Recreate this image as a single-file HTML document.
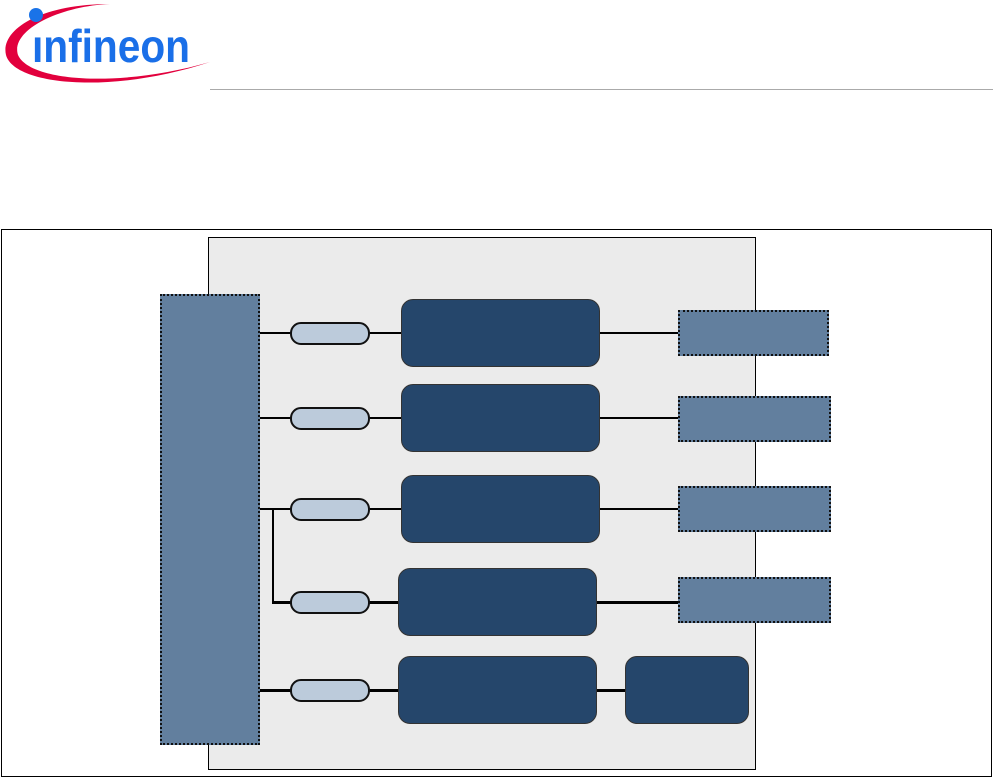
<!DOCTYPE html>
<html><head><style>
body{margin:0;width:993px;height:777px;background:#fff;position:relative;overflow:hidden;font-family:"Liberation Sans",sans-serif}
div{position:absolute;box-sizing:border-box}
.d{background:#25466b;border:1px solid #333;border-radius:12px}
.l{background:#627f9e;border:2px dotted #111}
.p{background:#bccbdb;border:2px solid #111;border-radius:11px;width:80px;height:23px;left:290px}
.h{height:3px;background:#000}
</style></head><body>
<svg style="position:absolute;left:0;top:0" width="230" height="95">
<path d="M110 4 C40 4 0 30 6 55 C14 85 110 95 210 62 C120 88 30 82 18 55 C10 30 60 6 110 4Z" fill="#e2003d"/>
<circle cx="36" cy="15" r="7" fill="#1a73e8"/>
<text x="32" y="62" font-family="Liberation Sans Narrow, Liberation Sans, sans-serif" font-size="46" font-weight="bold" fill="#1a6fe8" textLength="158" lengthAdjust="spacingAndGlyphs">ınfineon</text>
</svg>
<div style="left:210px;top:89px;width:783px;height:1px;background:#aaa"></div>
<div style="left:1px;top:229px;width:991px;height:548px;border:1px solid #000"></div>
<div style="left:208px;top:237px;width:548px;height:533px;background:#ebebeb;border:1px solid #000"></div>
<div class="l" style="left:160px;top:294px;width:100px;height:451px"></div>
<div class="h" style="left:260px;top:332px;width:420px;height:2px"></div>
<div class="h" style="left:260px;top:417px;width:420px;height:2px"></div>
<div class="h" style="left:260px;top:508px;width:420px;height:2px"></div>
<div class="h" style="left:272px;top:601px;width:408px"></div>
<div style="left:272px;top:508px;width:2px;height:95px;background:#000"></div>
<div class="h" style="left:260px;top:689px;width:370px"></div>
<div class="p" style="top:322px"></div>
<div class="p" style="top:407px"></div>
<div class="p" style="top:498px"></div>
<div class="p" style="top:591px"></div>
<div class="p" style="top:679px"></div>
<div class="d" style="left:401px;top:299px;width:199px;height:68px"></div>
<div class="d" style="left:401px;top:384px;width:199px;height:68px"></div>
<div class="d" style="left:401px;top:475px;width:199px;height:68px"></div>
<div class="d" style="left:398px;top:568px;width:199px;height:68px"></div>
<div class="d" style="left:398px;top:656px;width:199px;height:68px"></div>
<div class="d" style="left:625px;top:656px;width:124px;height:68px"></div>
<div class="l" style="left:678px;top:310px;width:151px;height:46px"></div>
<div class="l" style="left:678px;top:396px;width:153px;height:46px"></div>
<div class="l" style="left:678px;top:486px;width:153px;height:46px"></div>
<div class="l" style="left:678px;top:577px;width:153px;height:46px"></div>
</body></html>
